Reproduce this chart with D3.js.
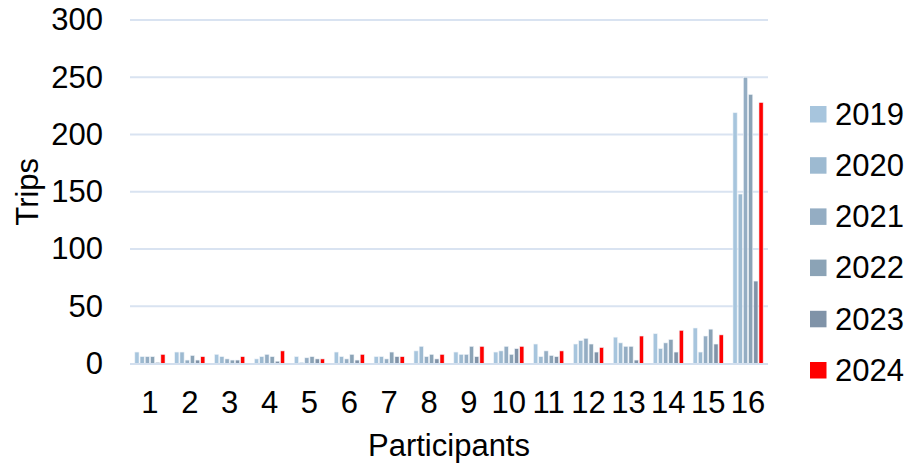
<!DOCTYPE html>
<html><head><meta charset="utf-8">
<script src="https://cdn.jsdelivr.net/npm/d3@7/dist/d3.min.js"></script>
<style>body{margin:0;background:#fff}svg{display:block}text{font-family:"Liberation Sans",Arial,sans-serif}</style>
</head><body><svg id="c" width="908" height="464"></svg>
<script>
const participants = ["1","2","3","4","5","6","7","8","9","10","11","12","13","14","15","16"];
const years = ["2019","2020","2021","2022","2023","2024"];
const y2019 = [10,10,8,4,6,10,6,11,10,10,17,17,23,26,31,219];
const y2020 = [6,10,6,6,1,6,6,15,8,11,6,20,18,13,10,148];
const y2021 = [6,3,4,8,5,4,4,6,8,15,11,22,15,18,24,250];
const y2022 = [6,7,3,6,6,8,10,8,15,8,7,17,15,21,30,235];
const y2023 = [1,3,3,2,4,3,6,4,6,13,6,10,3,10,17,72];
const y2024 = [8,6,6,11,4,8,6,8,15,15,11,14,24,29,25,228];
const yTicks = [0,50,100,150,200,250,300];
const colors = ["#a7c5dd","#9dbad1","#94adc3","#8ba3b6","#8093a8","#ff0000"];
const series = [y2019,y2020,y2021,y2022,y2023,y2024];

const svg = d3.select("#c");
const pLeft = 130, pRight = 768, pTop = 20, pBottom = 363.5;
const x0 = d3.scaleBand().domain(participants).range([pLeft,pRight]).paddingInner(0.2175).paddingOuter(0.10875);
const x1 = d3.scaleBand().domain(years).range([0,x0.bandwidth()]);
const y = d3.scaleLinear().domain([0,300]).range([pBottom,pTop]);
const color = d3.scaleOrdinal().domain(years).range(colors);

// gridlines
svg.append("g").selectAll("line").data(yTicks.filter(d=>d>0)).join("line")
  .attr("x1",pLeft).attr("x2",pRight).attr("y1",d=>y(d)).attr("y2",d=>y(d))
  .attr("stroke","#d9e3f1").attr("stroke-width",2);

// bars
const rows = participants.map((p,i)=>({p, vals: years.map((yr,j)=>({yr, v: series[j][i]}))}));
svg.append("g").selectAll("g").data(rows).join("g")
  .attr("transform",d=>`translate(${x0(d.p)},0)`)
  .selectAll("rect").data(d=>d.vals).join("rect")
  .attr("x",d=>x1(d.yr)+0.5).attr("width",x1.bandwidth()-1)
  .attr("y",d=>y(d.v)).attr("height",d=>pBottom-y(d.v))
  .attr("fill",d=>color(d.yr)).attr("stroke","#eef3f8").attr("stroke-width",0.6);

// baseline
svg.append("line").attr("x1",pLeft).attr("x2",pRight).attr("y1",pBottom+0.5).attr("y2",pBottom+0.5)
  .attr("stroke","#d3dfee").attr("stroke-width",2);

// y axis
const ya = svg.append("g").attr("transform",`translate(${pLeft},0)`)
  .call(d3.axisLeft(y).tickValues(yTicks).tickSize(0).tickPadding(27));
ya.select(".domain").remove();
ya.selectAll("text").attr("font-size",31).attr("fill","#000").attr("font-family","Liberation Sans, Arial, sans-serif");

// x axis
const xa = svg.append("g").attr("transform",`translate(0,${pBottom})`)
  .call(d3.axisBottom(x0).tickSize(0).tickPadding(27));
xa.select(".domain").remove();
xa.selectAll("text").attr("font-size",31).attr("fill","#000").attr("font-family","Liberation Sans, Arial, sans-serif");

// axis titles
svg.append("text").attr("x",(pLeft+pRight)/2).attr("y",456).attr("text-anchor","middle")
  .attr("font-size",31).text("Participants");
svg.append("text").attr("transform",`translate(38,${(pTop+pBottom)/2}) rotate(-90)`)
  .attr("text-anchor","middle").attr("font-size",31).text("Trips");

// legend
const lg = svg.append("g").selectAll("g").data(years).join("g")
  .attr("transform",(d,i)=>`translate(810,${114+i*51.2})`);
lg.append("rect").attr("x",0).attr("y",-8).attr("width",16.5).attr("height",16.5).attr("fill",d=>color(d));
lg.append("text").attr("x",25).attr("y",0).attr("dy","0.35em").attr("font-size",31).text(d=>d);
</script></body></html>
